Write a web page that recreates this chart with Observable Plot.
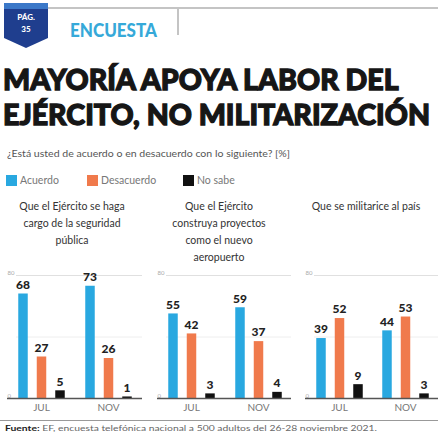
<!DOCTYPE html>
<html><head><meta charset="utf-8">
<script src="https://cdn.jsdelivr.net/npm/d3@7"></script>
<script src="https://cdn.jsdelivr.net/npm/@observablehq/plot@0.6"></script>
<style>
body{margin:0;width:438px;height:439px;background:#fff;font-family:Lato,"Open Sans",sans-serif;overflow:hidden;position:relative}
.abs{position:absolute;white-space:nowrap}
#badge{left:4px;top:3px;width:44px;height:45px;clip-path:polygon(0 0,100% 0,100% 78%,50% 100%,0 78%);background:linear-gradient(#3b78c8 0 14%,#1f3e8e 14%);color:#fff;font-weight:900;font-size:8px;text-align:center;line-height:12px}
.t{font-weight:900;font-size:29px;line-height:35px;color:#161616;transform-origin:0 0;-webkit-text-stroke:1.3px #161616}
.pt{top:198px;text-align:center;font-size:10.5px;line-height:17px;color:#333;white-space:pre}
.sw{display:inline-block;width:11px;height:11px;vertical-align:-2px;margin-right:3px}
.lg{font-size:10.5px;line-height:12px;color:#777;top:174px}
</style></head><body>
<div id="badge" class="abs"><div style="margin-top:8px">PÁG.</div><div>35</div></div>
<div class="abs" style="left:48px;top:7px;width:390px;height:2px;background:#c4c4c4"></div>
<div class="abs" style="left:177px;top:7px;width:2px;height:28px;background:#c4c4c4"></div>
<div class="abs" id="enc" style="left:70px;top:21px;font-size:18px;line-height:18px;font-weight:900;color:#36a9d9;transform-origin:0 0">ENCUESTA</div>
<div class="abs t" id="title" style="left:3px;top:61px">MAYORÍA APOYA LABOR DEL<br>EJÉRCITO, NO MILITARIZACIÓN</div>
<div class="abs" id="sub" style="left:7px;top:147px;font-size:10px;line-height:12px;color:#555;transform-origin:0 0">¿Está usted de acuerdo o en desacuerdo con lo siguiente? [%]</div>
<div id="legend"></div>
<div id="panels"></div>
<div class="abs" style="left:0;top:420px;width:438px;height:1px;background:#999"></div>
<div class="abs" id="foot" style="left:5px;top:423px;font-size:8px;line-height:10px;color:#666;transform-origin:0 0"><b style="color:#222">Fuente:</b> EF, encuesta telefónica nacional a 500 adultos del 26-28 noviembre 2021.</div>
<script>
// ---- data ----
const panelTitles = [
  "Que el Ejército se haga\ncargo de la seguridad\npública",
  "Que el Ejército\nconstruya proyectos\ncomo el nuevo\naeropuerto",
  "Que se militarice al país"
];
const months = ["JUL", "NOV"];
const categories = ["Acuerdo", "Desacuerdo", "No sabe"];
const acuerdo = [[68, 73], [55, 59], [39, 44]];
const desacuerdo = [[27, 26], [42, 37], [52, 53]];
const noSabe = [[5, 1], [3, 4], [9, 3]];
const yTicks = [0, 80];
const colors = ["#29a8e0", "#f07a4c", "#111111"];

// ---- layout ----
const layout = [
  {left: 0, ml: 7, mr: 2},
  {left: 147, ml: 10, mr: 0},
  {left: 294, ml: 11, mr: 0}
];
const legendLeft = [6, 87, 183];
const offsets = [-18.5, 0, 18.5];
const series = [acuerdo, desacuerdo, noSabe];

// legend
const legend = document.getElementById("legend");
categories.forEach((c, k) => {
  const s = document.createElement("div");
  s.className = "abs lg";
  s.style.left = legendLeft[k] + "px";
  s.innerHTML = `<span class="sw" style="background:${colors[k]}"></span>${c}`;
  legend.appendChild(s);
});

const panelsDiv = document.getElementById("panels");
panelTitles.forEach((title, p) => {
  const L = layout[p];
  const t = document.createElement("div");
  t.className = "abs pt";
  t.style.left = L.left + "px";
  t.style.width = "144px";
  t.textContent = title;
  panelsDiv.appendChild(t);

  const rows = [];
  categories.forEach((c, k) => months.forEach((m, i) => rows.push({month: m, category: c, value: series[k][p][i]})));

  const chart = Plot.plot({
    width: 144, height: 152,
    marginTop: 13, marginBottom: 16, marginLeft: L.ml, marginRight: L.mr,
    x: {type: "point", domain: months, padding: 0.5, axis: "bottom", tickSize: 0, tickPadding: 5, label: null},
    y: {domain: [0, 80], axis: null},
    style: {fontFamily: "Lato, sans-serif", fontSize: "10px", color: "#777", background: "transparent", overflow: "visible"},
    marks: [
      Plot.ruleY([40], {stroke: "#eeeeee", insetLeft: 9}),
      Plot.ruleY([80], {stroke: "#e0e0e0", insetLeft: 9}),
      Plot.text(yTicks, {y: d => d, text: d => String(d), frameAnchor: "left", textAnchor: "start", fontSize: 6, fill: "#aaa", dy: -2}),
      ...categories.map((c, k) => Plot.ruleX(rows.filter(r => r.category === c), {
        x: "month", y1: 0, y2: "value", stroke: colors[k], strokeWidth: 9.5, dx: offsets[k]
      })),
      ...categories.map((c, k) => Plot.text(rows.filter(r => r.category === c), {
        x: "month", y: "value", text: d => String(d.value), dx: offsets[k], dy: -9,
        fontWeight: "900", fontSize: 12, fill: "#222"
      })),
      Plot.ruleY([0], {stroke: "#555", strokeWidth: 1.3})
    ]
  });
  const wrap = document.createElement("div");
  wrap.className = "abs";
  wrap.style.left = L.left + "px";
  wrap.style.top = "262px";
  wrap.appendChild(chart);
  panelsDiv.appendChild(wrap);
});

function fit() {
  const fitTo = (id, w) => {
    const e = document.getElementById(id);
    e.style.transform = "none";
    e.style.transform = `scaleX(${w / e.getBoundingClientRect().width})`;
  };
  fitTo("title", 427);
  fitTo("enc", 87);
  fitTo("sub", 283);
  fitTo("foot", 372);
}
fit();
if (document.fonts) document.fonts.ready.then(fit);
</script>
</body></html>
